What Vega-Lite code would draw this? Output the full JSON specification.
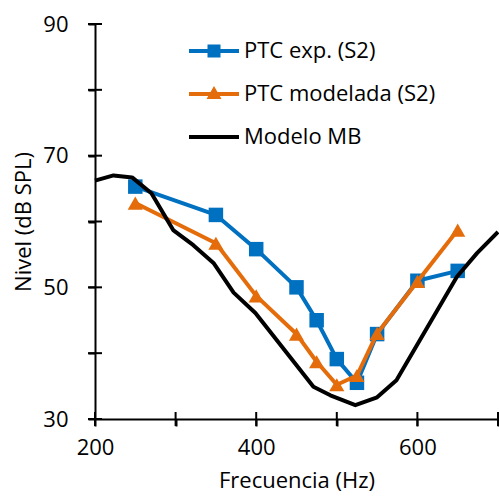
{
  "$schema": "https://vega.github.io/schema/vega-lite/v6.json",
  "width": 403,
  "height": 395,
  "autosize": {"type": "none"},
  "padding": {"left": 95, "top": 24, "right": 1, "bottom": 84},
  "config": {
    "view": {"stroke": null},
    "font": "Open Sans",
    "axis": {
      "domainColor": "#000000",
      "domainWidth": 2,
      "tickColor": "#000000",
      "tickWidth": 2,
      "tickSize": 7,
      "grid": false,
      "labelFont": "Open Sans",
      "labelFontSize": 22,
      "labelColor": "#000000",
      "titleFont": "Open Sans",
      "titleFontSize": 22,
      "titleFontWeight": "normal",
      "titleColor": "#000000"
    }
  },
  "datasets": {
    "curvas": [
      {"serie": "PTC exp. (S2)", "f": 250, "nivel": 65.3},
      {"serie": "PTC exp. (S2)", "f": 350, "nivel": 61.0},
      {"serie": "PTC exp. (S2)", "f": 400, "nivel": 55.8},
      {"serie": "PTC exp. (S2)", "f": 450, "nivel": 50.0},
      {"serie": "PTC exp. (S2)", "f": 475, "nivel": 45.0},
      {"serie": "PTC exp. (S2)", "f": 500, "nivel": 39.1},
      {"serie": "PTC exp. (S2)", "f": 525, "nivel": 35.5},
      {"serie": "PTC exp. (S2)", "f": 550, "nivel": 42.9},
      {"serie": "PTC exp. (S2)", "f": 600, "nivel": 51.0},
      {"serie": "PTC exp. (S2)", "f": 650, "nivel": 52.5},
      {"serie": "PTC modelada (S2)", "f": 250, "nivel": 62.8},
      {"serie": "PTC modelada (S2)", "f": 350, "nivel": 56.7},
      {"serie": "PTC modelada (S2)", "f": 400, "nivel": 48.7},
      {"serie": "PTC modelada (S2)", "f": 450, "nivel": 42.9},
      {"serie": "PTC modelada (S2)", "f": 475, "nivel": 38.7},
      {"serie": "PTC modelada (S2)", "f": 500, "nivel": 35.2},
      {"serie": "PTC modelada (S2)", "f": 525, "nivel": 36.6},
      {"serie": "PTC modelada (S2)", "f": 550, "nivel": 43.0},
      {"serie": "PTC modelada (S2)", "f": 600, "nivel": 50.9},
      {"serie": "PTC modelada (S2)", "f": 650, "nivel": 58.7},
      {"serie": "Modelo MB", "f": 200, "nivel": 66.2},
      {"serie": "Modelo MB", "f": 223, "nivel": 67.0},
      {"serie": "Modelo MB", "f": 246, "nivel": 66.7},
      {"serie": "Modelo MB", "f": 270, "nivel": 64.3},
      {"serie": "Modelo MB", "f": 297, "nivel": 58.7},
      {"serie": "Modelo MB", "f": 322, "nivel": 56.4},
      {"serie": "Modelo MB", "f": 347, "nivel": 53.7},
      {"serie": "Modelo MB", "f": 372, "nivel": 49.2},
      {"serie": "Modelo MB", "f": 399, "nivel": 46.1},
      {"serie": "Modelo MB", "f": 471, "nivel": 34.9},
      {"serie": "Modelo MB", "f": 492, "nivel": 33.6},
      {"serie": "Modelo MB", "f": 523, "nivel": 32.1},
      {"serie": "Modelo MB", "f": 550, "nivel": 33.3},
      {"serie": "Modelo MB", "f": 574, "nivel": 35.9},
      {"serie": "Modelo MB", "f": 649, "nivel": 51.6},
      {"serie": "Modelo MB", "f": 674, "nivel": 55.2},
      {"serie": "Modelo MB", "f": 700, "nivel": 58.4}
    ],
    "marcasX": [
      {"f": 200, "nivel": 30}, {"f": 300, "nivel": 30}, {"f": 400, "nivel": 30},
      {"f": 500, "nivel": 30}, {"f": 600, "nivel": 30}, {"f": 700, "nivel": 30}
    ],
    "marcasY": [
      {"f": 200, "nivel": 30}, {"f": 200, "nivel": 40}, {"f": 200, "nivel": 50},
      {"f": 200, "nivel": 60}, {"f": 200, "nivel": 70}, {"f": 200, "nivel": 80},
      {"f": 200, "nivel": 90}
    ]
  },
  "encoding": {
    "x": {
      "field": "f",
      "type": "quantitative",
      "scale": {"domain": [200, 700], "nice": false, "zero": false},
      "axis": {
        "title": "Frecuencia (Hz)",
        "values": [200, 300, 400, 500, 600, 700],
        "labelExpr": "datum.value % 200 === 0 ? datum.label : ''",
        "labelPadding": 11,
        "titlePadding": 12,
        "labelFlush": false
      }
    },
    "y": {
      "field": "nivel",
      "type": "quantitative",
      "scale": {"domain": [30, 90], "nice": false, "zero": false},
      "axis": {
        "title": "Nivel (dB SPL)",
        "values": [30, 40, 50, 60, 70, 80, 90],
        "labelExpr": "(datum.value - 30) % 20 === 0 ? datum.label : ''",
        "labelPadding": 20,
        "titlePadding": 7,
        "labelFlush": false
      }
    }
  },
  "layer": [
    {
      "data": {"name": "marcasX"},
      "mark": {"type": "tick", "orient": "vertical", "size": 14, "thickness": 2, "color": "#000000", "opacity": 1},
      "encoding": {}
    },
    {
      "data": {"name": "marcasY"},
      "mark": {"type": "tick", "orient": "horizontal", "size": 14, "thickness": 2, "color": "#000000", "opacity": 1},
      "encoding": {}
    },
    {
      "data": {"name": "curvas"},
      "transform": [{"filter": "datum.serie === 'PTC exp. (S2)'"}],
      "mark": {"type": "line", "strokeWidth": 4, "strokeJoin": "round"},
      "encoding": {
        "color": {
          "field": "serie",
          "type": "nominal",
          "scale": {
            "domain": ["PTC exp. (S2)", "PTC modelada (S2)", "Modelo MB"],
            "range": ["#0070C0", "#E46C0A", "#000000"]
          },
          "legend": {
            "orient": "none",
            "legendX": 94,
            "legendY": 2,
            "title": null,
            "padding": 0,
            "symbolSize": 2500,
            "labelFont": "Open Sans",
            "labelFontSize": 22,
            "labelColor": "#000000",
            "labelOffset": 5,
            "labelLimit": 0,
            "rowPadding": 7,
            "encode": {
              "symbols": {
                "update": {
                  "shape": {"signal": "datum.value === 'PTC exp. (S2)' ? 'M-1,-0.08H1V0.08H-1Z M-0.26,-0.26H0.26V0.26H-0.26Z' : datum.value === 'PTC modelada (S2)' ? 'M-1,-0.08H1V0.08H-1Z M0,-0.32L0.3,0.2H-0.3Z' : 'M-1,-0.08H1V0.08H-1Z'"},
                  "fill": {"signal": "scale('color', datum.value)"},
                  "stroke": {"value": "transparent"},
                  "strokeWidth": {"value": 0},
                  "opacity": {"value": 1}
                }
              }
            }
          }
        }
      }
    },
    {
      "data": {"name": "curvas"},
      "transform": [{"filter": "datum.serie === 'PTC exp. (S2)'"}],
      "mark": {"type": "point", "shape": "square", "filled": true, "size": 210, "opacity": 1},
      "encoding": {"color": {"field": "serie", "type": "nominal"}}
    },
    {
      "data": {"name": "curvas"},
      "transform": [{"filter": "datum.serie === 'PTC modelada (S2)'"}],
      "mark": {"type": "line", "strokeWidth": 4, "strokeJoin": "round"},
      "encoding": {"color": {"field": "serie", "type": "nominal"}}
    },
    {
      "data": {"name": "curvas"},
      "transform": [{"filter": "datum.serie === 'PTC modelada (S2)'"}],
      "mark": {"type": "point", "shape": "triangle-up", "filled": true, "size": 230, "opacity": 1},
      "encoding": {"color": {"field": "serie", "type": "nominal"}}
    },
    {
      "data": {"name": "curvas"},
      "transform": [{"filter": "datum.serie === 'Modelo MB'"}],
      "mark": {"type": "line", "strokeWidth": 4, "strokeJoin": "round"},
      "encoding": {"color": {"field": "serie", "type": "nominal"}}
    }
  ]
}
